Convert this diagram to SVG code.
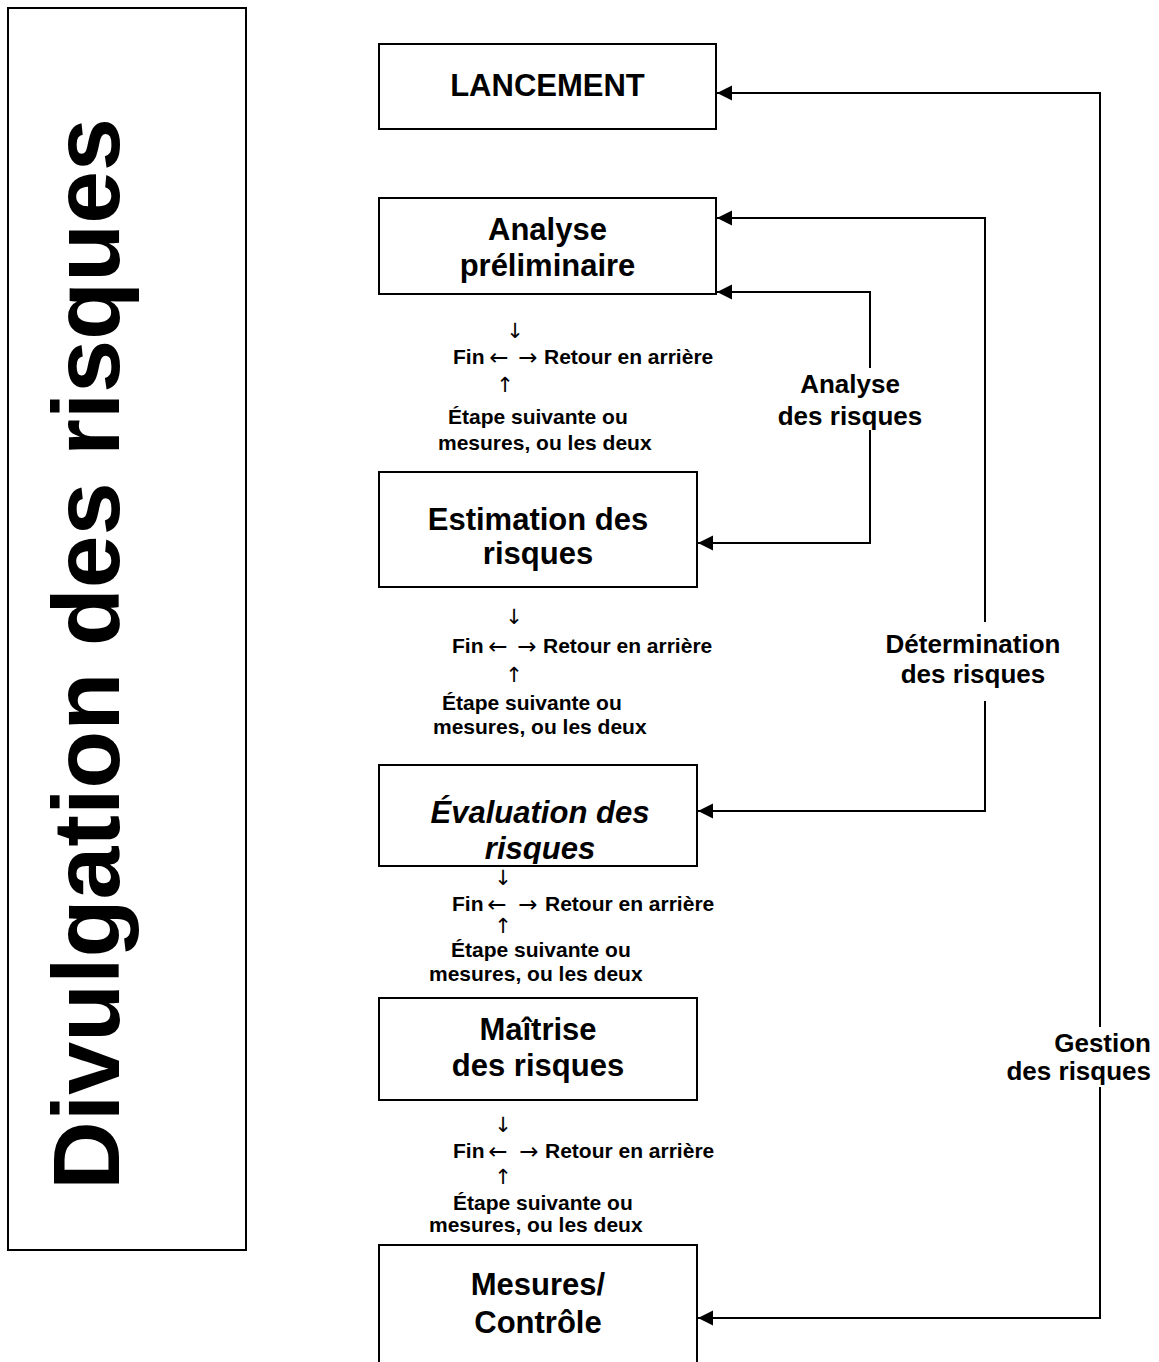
<svg xmlns="http://www.w3.org/2000/svg" width="1159" height="1362" viewBox="0 0 1159 1362">
<style>
text{font-family:"Liberation Sans",Arial,sans-serif;font-weight:bold;fill:#000}
.box{fill:#fff;stroke:#000;stroke-width:2}
.bt{font-size:31px;text-anchor:middle}
.sm{font-size:21px}
.ar{font-family:"DejaVu Sans",sans-serif;font-size:21px;text-anchor:middle;font-weight:normal}
.ah{font-family:"DejaVu Sans",sans-serif;font-size:23px;text-anchor:middle;font-weight:normal}
.lb{font-size:26px;text-anchor:middle}
.rt{text-anchor:end}
.cn{fill:none;stroke:#000;stroke-width:2}
</style>
<defs>
<marker id="ah" markerUnits="userSpaceOnUse" markerWidth="18" markerHeight="18" viewBox="-16 -9 18 18" refX="0" refY="0" orient="auto"><path d="M0,0 L-15,-7.5 L-15,7.5 Z" fill="#000"/></marker>
<clipPath id="clipEval"><rect x="380" y="766" width="316" height="98"/></clipPath>
</defs>
<rect width="1159" height="1362" fill="#fff"/>

<g id="divulgation">
<rect class="box" x="8" y="8" width="238" height="1242"/>
<text transform="translate(119,654) rotate(-90)" text-anchor="middle" font-size="95">Divulgation des risques</text>
</g>

<g id="connectors">
<path class="cn" d="M1100,1027 V93 H717" marker-end="url(#ah)"/>
<path class="cn" d="M1100,1087 V1318 H698" marker-end="url(#ah)"/>
<path class="cn" d="M985,622 V218 H717" marker-end="url(#ah)"/>
<path class="cn" d="M985,701 V811 H698" marker-end="url(#ah)"/>
<path class="cn" d="M870,368 V292 H717" marker-end="url(#ah)"/>
<path class="cn" d="M870,430 V543 H698" marker-end="url(#ah)"/>
<text class="lb" x="850" y="393">Analyse</text>
<text class="lb" x="850" y="425">des risques</text>
<text class="lb" x="973" y="653">Détermination</text>
<text class="lb" x="973" y="683">des risques</text>
<text class="lb rt" x="1151" y="1052">Gestion</text>
<text class="lb rt" x="1151" y="1080">des risques</text>
</g>

<g id="lancement">
<rect class="box" x="379" y="44" width="337" height="85"/>
<text class="bt" x="547.5" y="96">LANCEMENT</text>
</g>

<g id="analyse-preliminaire">
<rect class="box" x="379" y="198" width="337" height="96"/>
<text class="bt" x="547.5" y="240">Analyse</text>
<text class="bt" x="547.5" y="276">préliminaire</text>
</g>

<g id="step1">
<text class="ar" x="515" y="338">↓</text>
<text class="sm" x="453" y="364">Fin</text>
<text class="ah" x="499" y="365">←</text>
<text class="ah" x="528" y="365">→</text>
<text class="sm" x="544" y="364">Retour en arrière</text>
<text class="ar" x="505" y="392">↑</text>
<text class="sm" x="448" y="424">Étape suivante ou</text>
<text class="sm" x="438" y="450">mesures, ou les deux</text>
</g>

<g id="estimation">
<rect class="box" x="379" y="472" width="318" height="115"/>
<text class="bt" x="538" y="530">Estimation des</text>
<text class="bt" x="538" y="564">risques</text>
</g>

<g id="step2">
<text class="ar" x="514" y="624">↓</text>
<text class="sm" x="452" y="653">Fin</text>
<text class="ah" x="498" y="654">←</text>
<text class="ah" x="527" y="654">→</text>
<text class="sm" x="543" y="653">Retour en arrière</text>
<text class="ar" x="514" y="682">↑</text>
<text class="sm" x="442" y="710">Étape suivante ou</text>
<text class="sm" x="433" y="734">mesures, ou les deux</text>
</g>

<g id="evaluation">
<rect class="box" x="379" y="765" width="318" height="101"/>
<g clip-path="url(#clipEval)">
<text class="bt" x="540" y="823" font-style="italic">Évaluation des</text>
<text class="bt" x="540" y="859" font-style="italic">risques</text>
</g>
</g>

<g id="step3">
<text class="ar" x="503" y="885">↓</text>
<text class="sm" x="452" y="911">Fin</text>
<text class="ah" x="497" y="912">←</text>
<text class="ah" x="528" y="912">→</text>
<text class="sm" x="545" y="911">Retour en arrière</text>
<text class="ar" x="503" y="933">↑</text>
<text class="sm" x="451" y="957">Étape suivante ou</text>
<text class="sm" x="429" y="981">mesures, ou les deux</text>
</g>

<g id="maitrise">
<rect class="box" x="379" y="998" width="318" height="102"/>
<text class="bt" x="538" y="1040">Maîtrise</text>
<text class="bt" x="538" y="1076">des risques</text>
</g>

<g id="step4">
<text class="ar" x="503" y="1132">↓</text>
<text class="sm" x="453" y="1158">Fin</text>
<text class="ah" x="498" y="1159">←</text>
<text class="ah" x="529" y="1159">→</text>
<text class="sm" x="545" y="1158">Retour en arrière</text>
<text class="ar" x="503" y="1184">↑</text>
<text class="sm" x="453" y="1210">Étape suivante ou</text>
<text class="sm" x="429" y="1232">mesures, ou les deux</text>
</g>

<g id="mesures-controle">
<rect class="box" x="379" y="1245" width="318" height="130"/>
<text class="bt" x="538" y="1295">Mesures/</text>
<text class="bt" x="538" y="1333">Contrôle</text>
</g>
</svg>
